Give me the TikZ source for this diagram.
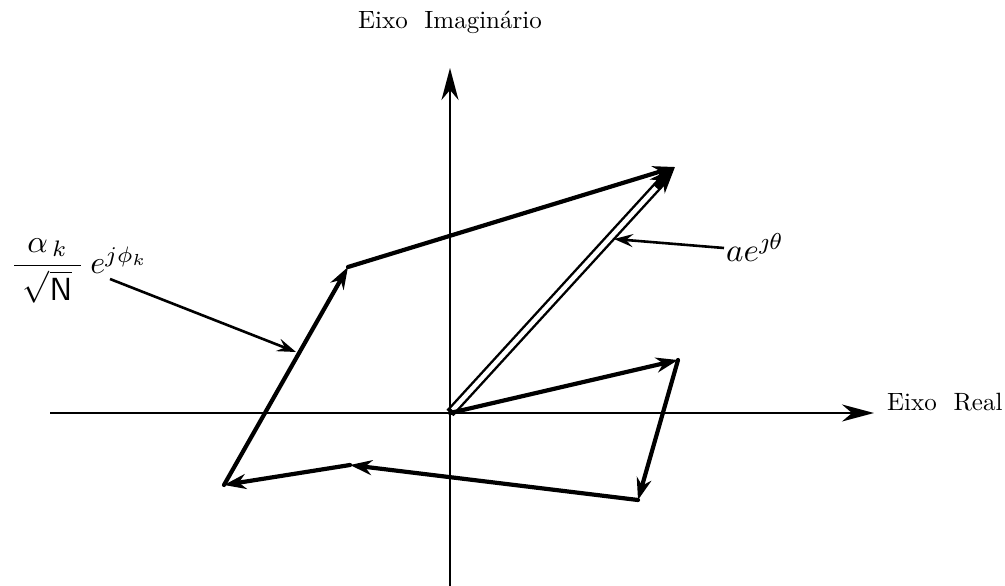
\documentclass[tikz,border=0pt]{standalone}
\usepackage{amsmath}
\usepackage{graphicx}
\usetikzlibrary{arrows.meta}
\begin{document}
\begin{tikzpicture}[x=1pt,y=-1pt,
  vec/.style={line width=4.2pt,line cap=round,line join=round,-{Stealth[length=22pt,width=15pt,inset=7pt]}},
  axis/.style={line width=1.9pt,-{Stealth[length=32pt,width=17pt,inset=10pt]}},
  leader/.style={line width=2.6pt,-{Stealth[length=19pt,width=13pt,inset=7pt]}},
  lbl/.style={inner sep=0pt},
  mlbl/.style={inner sep=0pt}]
\useasboundingbox (0,0) rectangle (1005,586);
% points
\coordinate (O) at (450,413);
\coordinate (xl) at (50,413);
\coordinate (xr) at (874,413);
\coordinate (yb) at (450,586);
\coordinate (yt) at (450,68);
\coordinate (P1) at (678,360);
\coordinate (P2) at (638,500);
\coordinate (P3) at (350,465);
\coordinate (P4) at (224,485);
\coordinate (P5) at (348,267);
\coordinate (P6) at (675,167);
% axes
\draw[axis] (xl) -- (xr);
\draw[axis] (yb) -- (yt);
\node[lbl,anchor=base] (im) at (450,29) {\scalebox{2.5}{Eixo\ \ Imagin\'ario}};
\node[lbl,anchor=base west] (re) at (887,410) {\scalebox{2.5}{Eixo\ \ Real}};
% resultant (double line)
\draw[line width=9.5pt,-{Stealth[length=26pt,width=20pt,inset=8pt]}] (O) -- (P6);
\draw[white,line width=4.6pt,shorten <=4pt,shorten >=28pt] (O) -- (P6);
% chain of vectors
\draw[vec] (O) -- (P1);
\draw[vec] (P1) -- (P2);
\draw[vec] (P2) -- (P3);
\draw[vec] (P3) -- (P4);
\draw[vec] (P4) -- (P5);
\draw[vec] (P5) -- (P6);
% labels
\node[mlbl,anchor=base west] (ae) at (726,261) {\scalebox{3.3}{$ae^{\jmath\theta}$}};
\coordinate (aeTip) at (614,239);
\coordinate (aeS) at (724,248);
\draw[leader] (aeS) -- (aeTip);
\node[mlbl,anchor=west] (ak) at (10,271) {\scalebox{3.2}{$\dfrac{\;\alpha_{\,k}\;}{\;\sqrt{\mathsf{N}}\;}\,e^{j\phi_k}$}};
\coordinate (akS) at (110,279);
\coordinate (akTip) at (296,352);
\draw[leader] (akS) -- (akTip);
\end{tikzpicture}
\end{document}
